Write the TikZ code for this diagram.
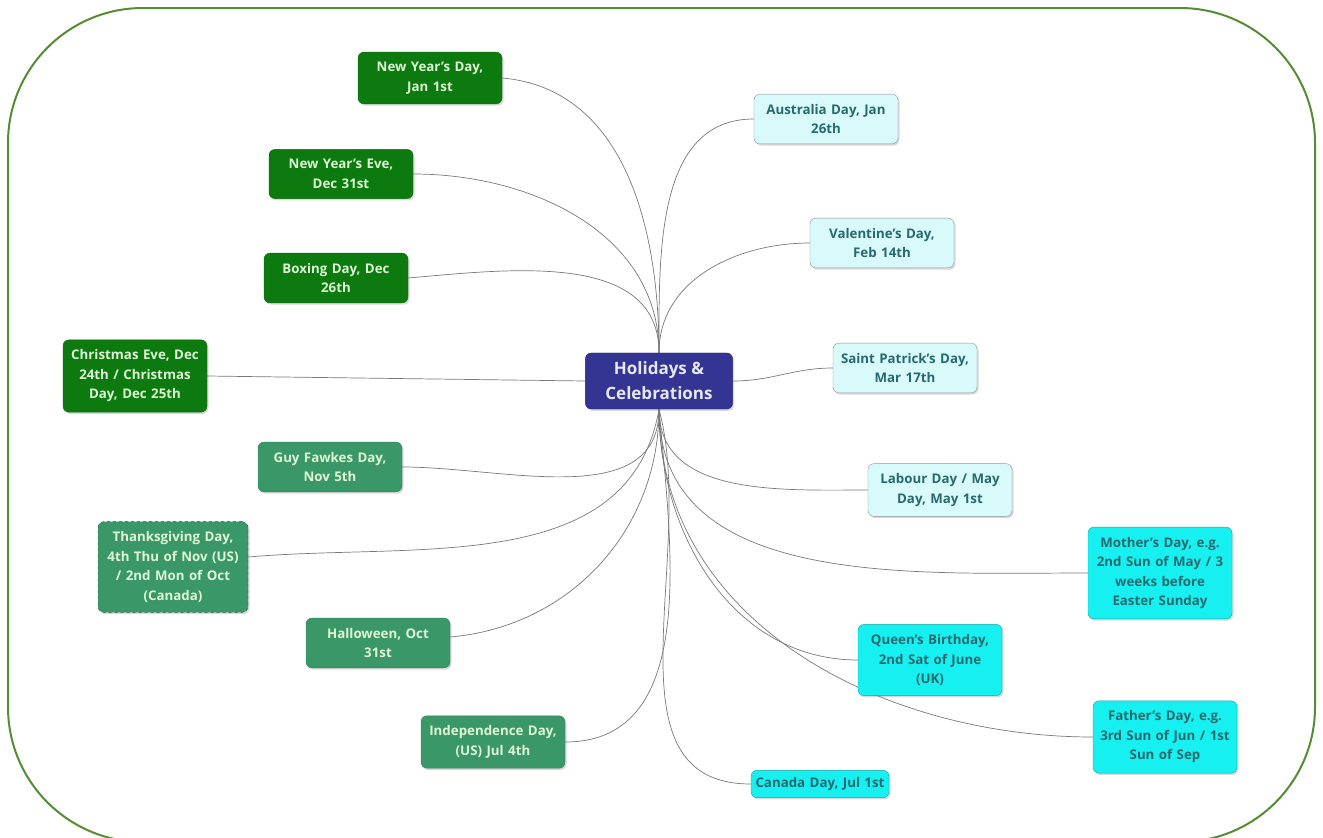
\documentclass[tikz,border=0pt]{standalone}
\usepackage{fontspec}
\setmainfont{Open Sans}
\usetikzlibrary{shadows,backgrounds}

\definecolor{framegreen}{RGB}{86,140,52}
\definecolor{darkgreen}{RGB}{12,122,14}
\definecolor{midgreen}{RGB}{58,152,104}
\definecolor{paletext}{RGB}{222,245,214}
\definecolor{palecyan}{RGB}{216,250,250}
\definecolor{brightcyan}{RGB}{22,240,240}
\definecolor{tealtext}{RGB}{40,105,110}
\definecolor{hubblue}{RGB}{52,52,146}
\definecolor{linkgray}{RGB}{120,120,120}

\tikzset{
  hnode/.style={rounded corners=6pt, align=center, text width=132pt, inner xsep=6pt, inner ysep=10pt,
    font=\fontsize{13.3}{19.5}\selectfont\bfseries,
    drop shadow={shadow xshift=1.5pt, shadow yshift=-1.8pt, opacity=0.3}},
  oldholiday/.style={hnode, fill=darkgreen, draw=darkgreen!85!black, text=paletext},
  autumnholiday/.style={hnode, fill=midgreen, draw=midgreen!85!black, text=paletext},
  springholiday/.style={hnode, fill=palecyan, draw=linkgray!80, text=tealtext},
  summerholiday/.style={hnode, fill=brightcyan, draw=brightcyan!70!black, text=tealtext},
  hub/.style={rounded corners=6pt, align=center, fill=hubblue, draw=hubblue!80!black, text=white!88!hubblue,
    font=\fontsize{17}{25}\selectfont\bfseries, inner xsep=20pt, inner ysep=9pt,
    drop shadow={shadow xshift=1.5pt, shadow yshift=-1.8pt, opacity=0.3}},
  link/.style={draw=linkgray, line width=0.7pt}
}

\begin{document}
\begin{tikzpicture}[x=1pt,y=-1pt]
  \useasboundingbox (0,0) rectangle (1323,838);
  \draw[framegreen, line width=2pt, rounded corners=135pt] (8,8) rectangle (1315,842);

  \node[hub] (hc) at (659,381) {Holidays \&\\Celebrations};

  % left hand side
  \node[oldholiday] (nyday) at (430,78) {New Year's Day,\\Jan 1st};
  \node[oldholiday] (nyeve) at (341,174) {New Year's Eve,\\Dec 31st};
  \node[oldholiday] (boxing) at (336,278) {Boxing Day, Dec\\26th};
  \node[oldholiday] (xmas) at (135,376) {Christmas Eve, Dec\\24th / Christmas\\Day, Dec 25th};
  \node[autumnholiday] (fawkes) at (330,467) {Guy Fawkes Day,\\Nov 5th};
  \node[autumnholiday, draw=midgreen!55!black, dashed, text width=138pt] (thanks) at (173,567)
    {Thanksgiving Day,\\4th Thu of Nov (US)\\/ 2nd Mon of Oct\\(Canada)};
  \node[autumnholiday] (halloween) at (378,643) {Halloween, Oct\\31st};
  \node[autumnholiday] (indep) at (493,742) {Independence Day,\\(US) Jul 4th};

  % right hand side
  \node[springholiday] (austr) at (826,119) {Australia Day, Jan\\26th};
  \node[springholiday] (valent) at (882,243) {Valentine's Day,\\Feb 14th};
  \node[springholiday] (patrick) at (905,368) {Saint Patrick's Day,\\Mar 17th};
  \node[springholiday] (labour) at (940,490) {Labour Day / May\\Day, May 1st};
  \node[summerholiday] (mother) at (1160,573) {Mother's Day, e.g.\\2nd Sun of May / 3\\weeks before\\Easter Sunday};
  \node[summerholiday] (queen) at (930,660) {Queen's Birthday,\\2nd Sat of June\\(UK)};
  \node[summerholiday] (father) at (1165,737) {Father's Day, e.g.\\3rd Sun of Jun / 1st\\Sun of Sep};
  \node[summerholiday, text width=130pt, inner xsep=4pt, inner ysep=7pt] (canada) at (820,784) {Canada Day, Jul 1st};

  \begin{scope}[on background layer]
    \draw[link] (hc.north) to[out=90,in=-5] (nyday.east);
    \draw[link] (hc.north) to[out=90,in=0] (nyeve.east);
    \draw[link] (hc.north) to[out=90,in=5] (boxing.east);
    \draw[link] (hc.west) -- (xmas.east);
    \draw[link] (hc.south) to[out=-90,in=0] (fawkes.east);
    \draw[link] (hc.south) to[out=-100,in=5] ([yshift=10pt]thanks.east);
    \draw[link] (hc.south) to[out=-90,in=5] ([yshift=6pt]halloween.east);
    \draw[link] (hc.south) to[out=-85,in=0] (indep.east);
    \draw[link] (hc.north) to[out=90,in=180] (austr.west);
    \draw[link] (hc.north) to[out=90,in=180] (valent.west);
    \draw[link] (hc.east) to[out=0,in=180] (patrick.west);
    \draw[link] (hc.south) to[out=-90,in=180] (labour.west);
    \draw[link] (hc.south) to[out=-90,in=180] (mother.west);
    \draw[link] (hc.south) to[out=-90,in=180] (queen.west);
    \draw[link] (hc.south) to[out=-90,in=180] (father.west);
    \draw[link] (hc.south) to[out=-75,in=180] (canada.west);
  \end{scope}
\end{tikzpicture}
\end{document}
